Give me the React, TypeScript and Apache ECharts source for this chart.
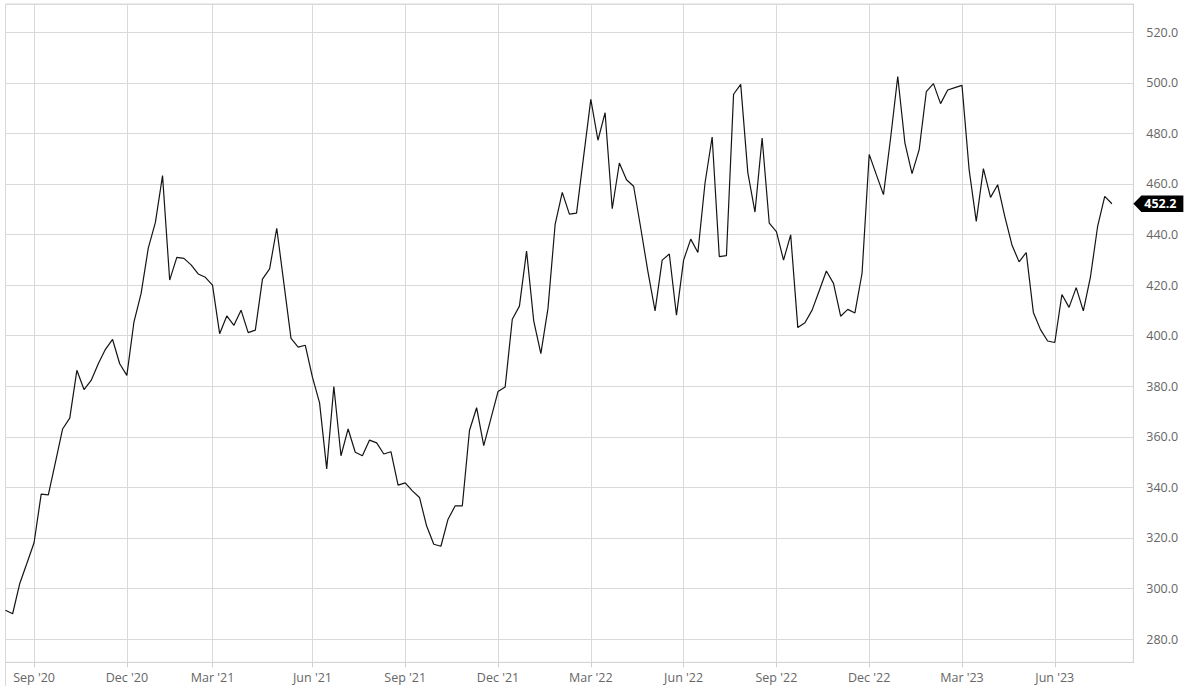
import React, { useEffect, useRef } from "react";
import * as echarts from "echarts";

// Weekly closing values (Aug 2020 – Aug 2023)
const values: number[] = [
  291.4, 290.0, 302.0, 310.0, 318.1, 337.3, 337.0, 350.0, 363.1, 367.4,
  386.3, 378.7, 382.3, 388.9, 394.6, 398.5, 388.9, 384.3, 405.5, 416.7,
  434.6, 444.8, 463.3, 422.0, 431.0, 430.6, 428.0, 424.4, 423.1, 420.0,
  400.8, 407.8, 404.1, 410.1, 401.2, 402.2, 422.4, 426.4, 442.5, 420.7,
  398.9, 395.5, 396.2, 383.6, 373.4, 347.3, 379.9, 352.5, 363.1, 353.9,
  352.5, 358.7, 357.6, 353.2, 354.1, 340.9, 341.8, 338.6, 336.0, 324.7,
  317.5, 316.7, 327.4, 332.7, 332.7, 362.5, 371.5, 356.5, 367.2, 377.9,
  379.7, 406.5, 411.7, 433.5, 405.9, 392.9, 410.8, 444.0, 456.7, 448.1,
  448.5, 471.0, 493.5, 477.3, 488.2, 450.2, 468.3, 461.7, 459.1, 442.5,
  425.3, 409.8, 429.9, 432.3, 408.1, 429.9, 438.2, 432.9, 460.4, 478.6,
  431.3, 431.7, 495.5, 499.4, 464.4, 448.9, 478.2, 444.5, 441.2, 429.9,
  439.9, 403.2, 405.1, 410.1, 417.8, 425.6, 420.7, 407.7, 410.4, 409.0,
  424.7, 471.7, 463.7, 455.8, 478.2, 502.5, 476.3, 464.1, 473.6, 496.5,
  499.7, 491.8, 497.2, 498.1, 499.0, 465.7, 445.2, 466.1, 454.7, 459.7,
  447.1, 435.9, 429.2, 432.9, 409.2, 402.4, 397.9, 397.3, 416.3, 411.2,
  419.0, 409.8, 423.3, 443.2, 455.1, 452.2,
];

// Category labels: one per week, plus a few empty slots of right padding
const startDate = new Date(Date.UTC(2020, 7, 7));
const categories: string[] = values.map((_, i) => {
  const d = new Date(startDate.getTime() + i * 7 * 86400000);
  return d.toISOString().slice(0, 10);
});
const paddingSlots = ["", "", ""];

// Tick positions (category index) and labels on the time axis
const tickIndices: number[] = [4, 17, 29, 43, 56, 69, 82, 95, 108, 121, 134, 147];
const tickLabels: string[] = [
  "Sep '20", "Dec '20", "Mar '21", "Jun '21", "Sep '21", "Dec '21",
  "Mar '22", "Jun '22", "Sep '22", "Dec '22", "Mar '23", "Jun '23",
];

const yMin = 270.8;
const yMax = 531.2;

export default function App() {
  const ref = useRef<HTMLDivElement>(null);

  useEffect(() => {
    if (!ref.current) return;
    const chart = echarts.init(ref.current, undefined, { renderer: "svg" });
    const allCats = [...categories, ...paddingSlots];
    const isTick = (idx: number) => tickIndices.indexOf(idx) >= 0;
    const lastIdx = values.length - 1;
    const lastVal = values[lastIdx];
    const font = "'Open Sans', 'Noto Sans', sans-serif";
    const gridLeft = 5.5;
    const gridBottom = 36.7;

    chart.setOption({
      animation: false,
      backgroundColor: "#ffffff",
      grid: {
        left: gridLeft,
        right: 66.7,
        top: 4,
        bottom: gridBottom,
        show: true,
        borderColor: "#d9d9d9",
        borderWidth: 1,
        containLabel: false,
      },
      graphic: [
        {
          type: "line",
          silent: true,
          shape: { x1: gridLeft, y1: 699 - gridBottom, x2: gridLeft, y2: 686 },
          style: { stroke: "#d9d9d9", lineWidth: 1 },
        },
      ],
      xAxis: {
        type: "category",
        boundaryGap: false,
        data: allCats,
        axisLine: { show: true, lineStyle: { color: "#d4d4d4", width: 1 } },
        axisTick: {
          show: true,
          length: 5,
          interval: (idx: number) => isTick(idx),
          lineStyle: { color: "#cfcfcf" },
        },
        splitLine: {
          show: true,
          interval: (idx: number) => isTick(idx),
          lineStyle: { color: "#d9d9d9", width: 1 },
        },
        axisLabel: {
          interval: (idx: number) => isTick(idx),
          formatter: (_v: string, idx: number) => {
            const k = tickIndices.indexOf(idx);
            return k >= 0 ? tickLabels[k] : "";
          },
          color: "#666666",
          fontFamily: font,
          fontSize: 12.5,
          margin: 9,
        },
      },
      yAxis: {
        type: "value",
        position: "right",
        min: yMin,
        max: yMax,
        splitNumber: 13,
        scale: true,
        axisLine: { show: true, lineStyle: { color: "#d4d4d4", width: 1 } },
        axisTick: { show: false },
        splitLine: { show: true, lineStyle: { color: "#d9d9d9", width: 1 } },
        axisLabel: {
          showMinLabel: false,
          showMaxLabel: false,
          margin: 13,
          color: "#666666",
          fontFamily: font,
          fontSize: 12.5,
          formatter: (v: number) =>
            Math.abs(v / 20 - Math.round(v / 20)) < 1e-6 ? v.toFixed(1) : "",
        },
      },
      series: [
        {
          type: "line",
          data: values,
          symbol: "none",
          showSymbol: false,
          lineStyle: { color: "#141414", width: 1.2 },
          itemStyle: { color: "#141414" },
          markPoint: {
            silent: true,
            symbol: "path://M0,8 L8,0 L50,0 L50,16 L8,16 Z",
            symbolSize: [50, 16.5],
            symbolOffset: [46.5, 0],
            itemStyle: { color: "#000000" },
            label: {
              show: true,
              position: "inside",
              offset: [2, 0],
              color: "#ffffff",
              fontWeight: "bold",
              fontFamily: font,
              fontSize: 12.5,
              formatter: () => lastVal.toFixed(1),
            },
            data: [{ coord: [lastIdx, lastVal], value: lastVal }],
          },
        },
      ],
    });

    return () => chart.dispose();
  }, []);

  return (
    <div
      ref={ref}
      style={{ position: "fixed", left: 0, top: 0, width: 1200, height: 699, background: "#fff" }}
    />
  );
}
